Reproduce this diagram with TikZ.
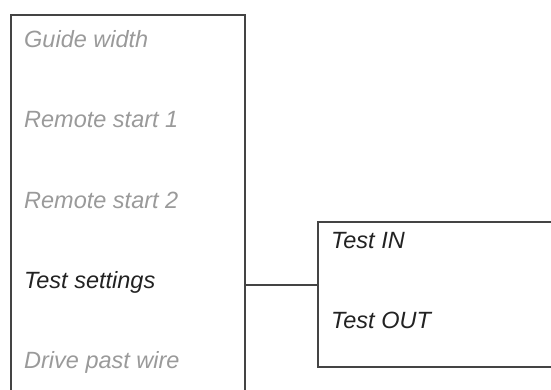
\documentclass[tikz,border=0pt]{standalone}
\usepackage{fontspec}
\setmainfont{Liberation Sans}
\definecolor{dim}{HTML}{9A9A9A}
\definecolor{ink}{HTML}{222222}
\definecolor{edge}{HTML}{444444}
\begin{document}
\begin{tikzpicture}[x=1pt,y=-1pt,
  box/.style={draw=edge,line width=1.1pt,fill=none,inner sep=0pt},
  item/.style={anchor=base west,inner sep=0pt,font=\fontsize{23.5}{28}\selectfont\itshape},
  off/.style={item,text=dim},
  on/.style={item,text=ink},
  link/.style={draw=edge,line width=1.1pt}]
\useasboundingbox (0,0) rectangle (551,390);
\clip (0,0) rectangle (551,390);
\node[box,minimum width=234pt,minimum height=390pt] (menu) at (128,210) {};
\node[box,minimum width=250pt,minimum height=145pt] (sub) at (443,294.5) {};
\node[off] (g) at (24,48) {Guide width};
\node[off] (r1) at (24,128) {Remote start 1};
\node[off] (r2) at (24,208) {Remote start 2};
\node[on] (ts) at (24,288) {Test settings};
\node[off] (dp) at (24,368) {Drive past wire};
\node[on] (tin) at (331,248) {Test IN};
\node[on] (tout) at (331,328) {Test OUT};
\coordinate (c) at (0,285);
\draw[link] (menu.east |- c) -- (sub.west |- c);
\end{tikzpicture}
\end{document}
